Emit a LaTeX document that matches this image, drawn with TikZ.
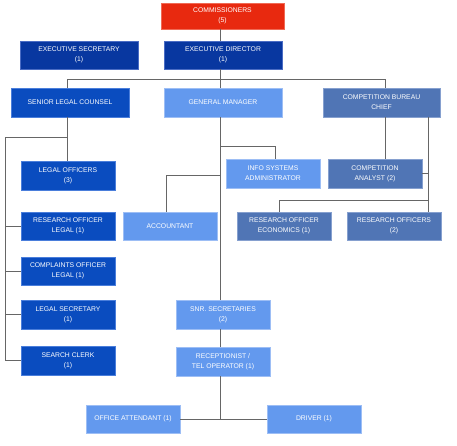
\documentclass[tikz,border=0pt]{standalone}
\usepackage{fontspec}
\setmainfont{Liberation Sans}
\definecolor{cred}{HTML}{E8290F}
\definecolor{credb}{HTML}{F06A55}
\definecolor{cdark}{HTML}{0837A0}
\definecolor{cdarkb}{HTML}{4A6CC4}
\definecolor{cmid}{HTML}{0A4CBF}
\definecolor{cmidb}{HTML}{4A7EDB}
\definecolor{clight}{HTML}{6399EE}
\definecolor{clightb}{HTML}{9DBEF5}
\definecolor{csteel}{HTML}{5075B5}
\definecolor{csteelb}{HTML}{86A0CF}
\definecolor{cline}{HTML}{666666}
\begin{document}
\begin{tikzpicture}[x=1pt,y=-1pt,
  box/.style={rectangle, text=white, align=center, inner sep=1pt, line width=0.8pt,
    font=\fontsize{6.8}{9.8}\selectfont, minimum width=94pt, minimum height=28pt},
  wide/.style={box, minimum width=118pt},
  redbox/.style={fill=cred, draw=credb},
  darkbox/.style={fill=cdark, draw=cdarkb},
  midbox/.style={fill=cmid, draw=cmidb},
  lightbox/.style={fill=clight, draw=clightb},
  steelbox/.style={fill=csteel, draw=csteelb},
  conn/.style={draw=cline, line width=0.9pt}]
\useasboundingbox (0,0) rectangle (457,445);
% x positions of vertical connectors
\coordinate (t) at (220,0);
\coordinate (xL) at (67,0);
\coordinate (xE) at (5,0);
\coordinate (xC) at (385,0);
\coordinate (xR) at (428,0);
\coordinate (xI) at (275,0);
\coordinate (xA) at (166,0);
\coordinate (xO) at (279,0);
% y positions of horizontal connectors
\coordinate (yBus) at (0,79);
\coordinate (yL) at (0,137);
\coordinate (yI) at (0,146);
\coordinate (yA) at (0,175);
\coordinate (yO) at (0,200.7);
\coordinate (yD) at (0,420);

% nodes
\node[box, redbox, minimum width=123pt, minimum height=26pt] (com) at (222.5,16) {COMMISSIONERS\\(5)};
\node[wide, darkbox] (exs) at (79,55) {EXECUTIVE SECRETARY\\(1)};
\node[wide, darkbox] (exd) at (223,55) {EXECUTIVE DIRECTOR\\(1)};
\node[wide, midbox, minimum height=29pt] (slc) at (70,102.5) {SENIOR LEGAL COUNSEL};
\node[wide, lightbox, minimum height=29pt] (gm) at (223,102.5) {GENERAL MANAGER};
\node[wide, steelbox, minimum width=117pt, minimum height=29pt] (cbc) at (381.5,102.5) {COMPETITION BUREAU\\CHIEF};
\node[box, midbox, minimum height=29pt] (lo) at (68,175.5) {LEGAL OFFICERS\\(3)};
\node[box, midbox] (rol) at (68,226) {RESEARCH OFFICER\\LEGAL (1)};
\node[box, midbox] (col) at (68,271) {COMPLAINTS OFFICER\\LEGAL (1)};
\node[box, midbox, minimum height=29pt] (ls) at (68,314.5) {LEGAL SECRETARY\\(1)};
\node[box, midbox, minimum height=29pt] (sc) at (68,360.5) {SEARCH CLERK\\(1)};
\node[box, lightbox] (acc) at (170,226) {ACCOUNTANT};
\node[box, lightbox, minimum height=29pt] (isa) at (273,173.5) {INFO SYSTEMS\\ADMINISTRATOR};
\node[box, steelbox, minimum height=29pt] (ca) at (375,173.5) {COMPETITION\\ANALYST (2)};
\node[box, steelbox] (roe) at (284,226) {RESEARCH OFFICER\\ECONOMICS (1)};
\node[box, steelbox] (ros) at (394,226) {RESEARCH OFFICERS\\(2)};
\node[box, lightbox, minimum height=29pt] (snr) at (223,314.5) {SNR. SECRETARIES\\(2)};
\node[box, lightbox, minimum height=29pt] (rec) at (223,361.5) {RECEPTIONIST /\\TEL OPERATOR (1)};
\node[box, lightbox] (oa) at (133,419) {OFFICE ATTENDANT (1)};
\node[box, lightbox] (drv) at (314,419) {DRIVER (1)};

% connectors
\draw[conn] (com.south -| t) -- (exd.north -| t);
\draw[conn] (exd.south -| t) -- (gm.north -| t);
\draw[conn] (slc.north -| xL) -- (yBus -| xL) -- (yBus -| xC) -- (cbc.north -| xC);
% senior legal counsel branch
\draw[conn] (slc.south -| xL) -- (lo.north -| xL);
\draw[conn] (yL -| xL) -- (yL -| xE) -- (sc.west -| xE) -- (sc.west);
\draw[conn] (rol.west -| xE) -- (rol.west);
\draw[conn] (col.west -| xE) -- (col.west);
\draw[conn] (ls.west -| xE) -- (ls.west);
% general manager branch
\draw[conn] (gm.south -| t) -- (snr.north -| t);
\draw[conn] (yI -| t) -- (yI -| xI) -- (isa.north -| xI);
\draw[conn] (yA -| t) -- (yA -| xA) -- (acc.north -| xA);
\draw[conn] (snr.south -| t) -- (rec.north -| t);
\draw[conn] (rec.south -| t) -- (yD -| t);
\draw[conn] (oa.east) -- (drv.west);
% competition bureau branch
\draw[conn] (cbc.south -| xC) -- (ca.north -| xC);
\draw[conn] (cbc.south -| xR) -- (ros.north -| xR);
\draw[conn] (ca.east) -- (ca.east -| xR);
\draw[conn] (yO -| xR) -- (yO -| xO) -- (roe.north -| xO);
\end{tikzpicture}
\end{document}
